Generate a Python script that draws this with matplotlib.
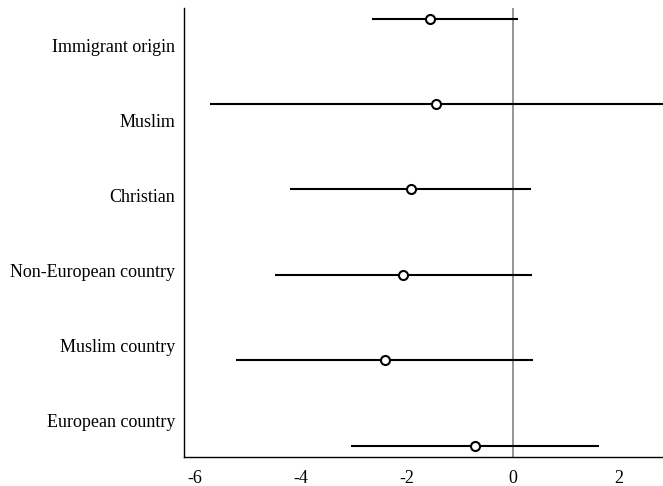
#!/usr/bin/env python3
"""Coefficient plot: point estimates with confidence intervals."""

import matplotlib
matplotlib.use("Agg")
import matplotlib.pyplot as plt
import numpy as np

# Rows listed top to bottom
labels = [
    "Immigrant origin",
    "Muslim",
    "Christian",
    "Non-European country",
    "Muslim country",
    "European country",
]
estimate = [-1.57, -1.46, -1.93, -2.07, -2.41, -0.72]
ci_low = [-2.67, -5.71, -4.21, -4.49, -5.23, -3.05]
ci_high = [0.10, 2.95, 0.34, 0.36, 0.38, 1.63]
xticks = [-6, -4, -2, 0, 2]

plt.rcParams["font.family"] = ["Liberation Serif", "DejaVu Serif"]
plt.rcParams["font.size"] = 13

fig = plt.figure(figsize=(6.63, 4.86), dpi=100)
ax = fig.add_axes([184 / 663, 29 / 486, (663 - 184) / 663, 449 / 486])

n = len(labels)
ypos = np.arange(n)[::-1]

ax.axvline(0, color="#8c8c8c", linewidth=1.3, zorder=1)
ax.hlines(ypos, ci_low, ci_high, color="black", linewidth=1.5, zorder=2)
ax.plot(estimate, ypos, "o", markersize=6.5, markerfacecolor="white",
        markeredgecolor="black", markeredgewidth=1.5, zorder=3)

ax.set_xlim(-6.21, 2.83)
ax.set_ylim(-0.129, n - 1 + 0.123)
ax.set_xticks(xticks)
ax.set_xticklabels([str(t) for t in xticks])
ax.tick_params(axis="x", length=0, pad=9)
ax.set_yticks([])

# category labels sit evenly down the left side of the axes
for i, lab in enumerate(labels):
    ax.text(-0.018, 1 - (i + 0.5) / n - 0.0155, lab, transform=ax.transAxes,
            ha="right", va="baseline")

for side in ["top", "right"]:
    ax.spines[side].set_visible(False)
ax.spines["left"].set_linewidth(1.0)
ax.spines["bottom"].set_linewidth(1.0)

fig.savefig("out.png", dpi=100)
